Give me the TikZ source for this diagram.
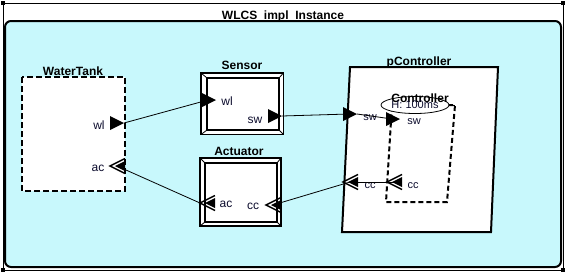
\documentclass[tikz,border=0pt]{standalone}
\usepackage{fontspec}
\setmainfont{Liberation Sans}
\usetikzlibrary{arrows.meta}
\definecolor{implcyan}{RGB}{200,248,252}
\definecolor{portblue}{RGB}{12,12,45}

\begin{document}
\begin{tikzpicture}[x=1pt,y=-1pt,
  title/.style={font=\fontsize{12}{14}\selectfont\bfseries,anchor=base,inner sep=0},
  plbl/.style={font=\fontsize{12}{14}\selectfont,text=portblue,anchor=base,inner sep=0},
  slbl/.style={font=\fontsize{11}{13}\selectfont,text=portblue,anchor=base,inner sep=0},
  conn/.style={line width=0.8pt},
  dport/.pic={\fill (0,-7) -- (14,0) -- (0,7) -- cycle;
    \coordinate (-c) at (6,0); \coordinate (-tip) at (14,0);},
  eport/.pic={\draw[line width=1.5pt] (15,-7.5) -- (0,0) -- (15,7.5);
    \fill (5,0) -- (15,-5) -- (15,5) -- cycle;
    \coordinate (-c) at (7,0); \coordinate (-tip) at (0,0); \coordinate (-back) at (15,0);}]
\useasboundingbox (0,0) rectangle (567,274);
% system frame
\draw[line width=0.8pt] (3,3) rectangle (563,270);
\foreach \cx/\cy in {3/3,563/3,3/270,563/270} \fill (\cx-2,\cy-2) rectangle (\cx+2,\cy+2);
\node[title] (sysname) at (283,19) {WLCS\_impl\_Instance};
\draw[fill=implcyan,line width=2pt,rounded corners=6pt] (5,21) rectangle (561,267);

% WaterTank
\draw[fill=white,line width=2pt,dash pattern=on 6pt off 3pt] (22,77) rectangle (125,191);
\node[title] (tank) at (73,75) {WaterTank};
\pic (tankwl) at (110,123) {dport};
\pic (tankac) at (110,166) {eport};
\node[plbl] (tankwllbl) at (99,129) {wl};
\node[plbl] (tankaclbl) at (98,171) {ac};

% Sensor and Actuator
\foreach \ax/\ay/\bx/\by/\cx/\cy/\dx/\dy in {201/73/283.5/134.5/207/78/279/130, 200/158/281/226/205/163/277/222}{
  \draw[fill=white,line width=1.6pt] (\ax,\ay) rectangle (\bx,\by);
  \draw[line width=2.4pt] (\cx,\cy) rectangle (\dx,\dy);
  \draw[line width=0.8pt] (\ax,\ay) -- (\cx,\cy) (\bx,\ay) -- (\dx,\cy) (\ax,\by) -- (\cx,\dy) (\bx,\by) -- (\dx,\dy);
}
\node[title] (sensor) at (242,69) {Sensor};
\node[title] (actuator) at (239,155) {Actuator};
\pic (senswl) at (202,100) {dport};
\pic (senssw) at (268,116) {dport};
\pic (actac) at (200,203) {eport};
\pic (actcc) at (266,205) {eport};
\node[plbl] (senswllbl) at (227,105) {wl};
\node[plbl] (sensswlbl) at (255,123) {sw};
\node[plbl] (actaclbl) at (226,207) {ac};
\node[plbl] (actcclbl) at (253,209) {cc};

% processor pController
\draw[fill=white,line width=2pt] (350,67) -- (498,67) -- (491,232) -- (342,232) -- cycle;
\node[title] (pctrl) at (419,65) {pController};
\pic (pcsw) at (343,114) {dport};
\pic (pccc) at (343,182) {eport};
\node[slbl] (pcswlbl) at (370,120) {sw};
\node[slbl] (pccclbl) at (370,188) {cc};

% thread Controller
\draw[line width=2pt,dash pattern=on 5pt off 3pt] (392,105) -- (455,105) -- (447,202) -- (386,202) -- cycle;
\fill[white] (415,105) ellipse [x radius=34,y radius=8.5];
\node[title] (ctrl) at (420,102) {Controller};
\draw[line width=0.8pt] (415,105) ellipse [x radius=34,y radius=8.5];
\node[slbl] (period) at (415,108) {H: 100ms};
\draw[line width=1pt] (449,105) -- (455,105);
\pic (ctrlsw) at (386,119) {dport};
\pic (ctrlcc) at (387,182) {eport};
\node[slbl] (ctrlswlbl) at (414,124) {sw};
\node[slbl] (ctrlcclbl) at (413,188) {cc};

% connections
\draw[conn] (tankwl-tip) -- (senswl-c);
\draw[conn] (senssw-tip) -- (pcsw-c);
\draw[conn] (pcsw-tip) -- (ctrlsw-c);
\draw[conn] (ctrlcc-c) -- (pccc-back);
\draw[conn] (pccc-c) -- (actcc-c);
\draw[conn] (actac-tip) -- (tankac-c);
\end{tikzpicture}
\end{document}
